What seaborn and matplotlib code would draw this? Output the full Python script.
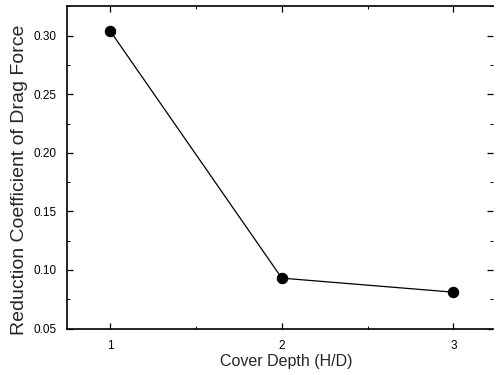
import matplotlib
matplotlib.use("Agg")
import matplotlib.pyplot as plt
import seaborn as sns
import pandas as pd
from matplotlib.ticker import MultipleLocator

cover_depth = [1, 2, 3]
reduction_coef = [0.304, 0.093, 0.081]

df = pd.DataFrame({"Cover Depth (H/D)": cover_depth,
                   "Reduction Coefficient of Drag Force": reduction_coef})

sns.set_style("ticks")
plt.rcParams['font.family'] = ['Liberation Sans', 'DejaVu Sans']

fig = plt.figure(figsize=(4.96, 3.75), dpi=100)
ax = fig.add_axes([0.1357, 0.124, 0.858, 0.859])

sns.lineplot(data=df, x="Cover Depth (H/D)", y="Reduction Coefficient of Drag Force",
             ax=ax, color="black", linewidth=0.9, marker="o", markersize=7.5,
             markeredgecolor="black", markerfacecolor="black")

ax.set_xlim(0.75, 3.23)
ax.set_ylim(0.05, 0.325)
ax.xaxis.set_major_locator(MultipleLocator(1))
ax.xaxis.set_minor_locator(MultipleLocator(0.5))
ax.yaxis.set_major_locator(MultipleLocator(0.05))
ax.yaxis.set_minor_locator(MultipleLocator(0.025))
ax.yaxis.set_major_formatter(plt.FuncFormatter(lambda v, p: f"{v:.2f}"))

ax.tick_params(which="both", direction="in", top=True, right=True,
               colors="black", labelsize=8.5)
ax.tick_params(which="major", length=4, width=0.9)
ax.tick_params(which="minor", length=2, width=0.7)
ax.tick_params(axis="y", which="major", pad=8)
ax.tick_params(axis="x", which="major", pad=8)

for s in ["left", "bottom", "top"]:
    ax.spines[s].set_linewidth(1.2)
    ax.spines[s].set_color("black")
ax.spines["right"].set_visible(False)

ax.set_xlabel("Cover Depth (H/D)", fontsize=11.5, labelpad=2)
ax.set_ylabel("Reduction Coefficient of Drag Force", fontsize=14)
ax.yaxis.set_label_coords(-0.093, 0.461)
ax.xaxis.label.set_x(0.514)

fig.savefig("out.png", dpi=100)
